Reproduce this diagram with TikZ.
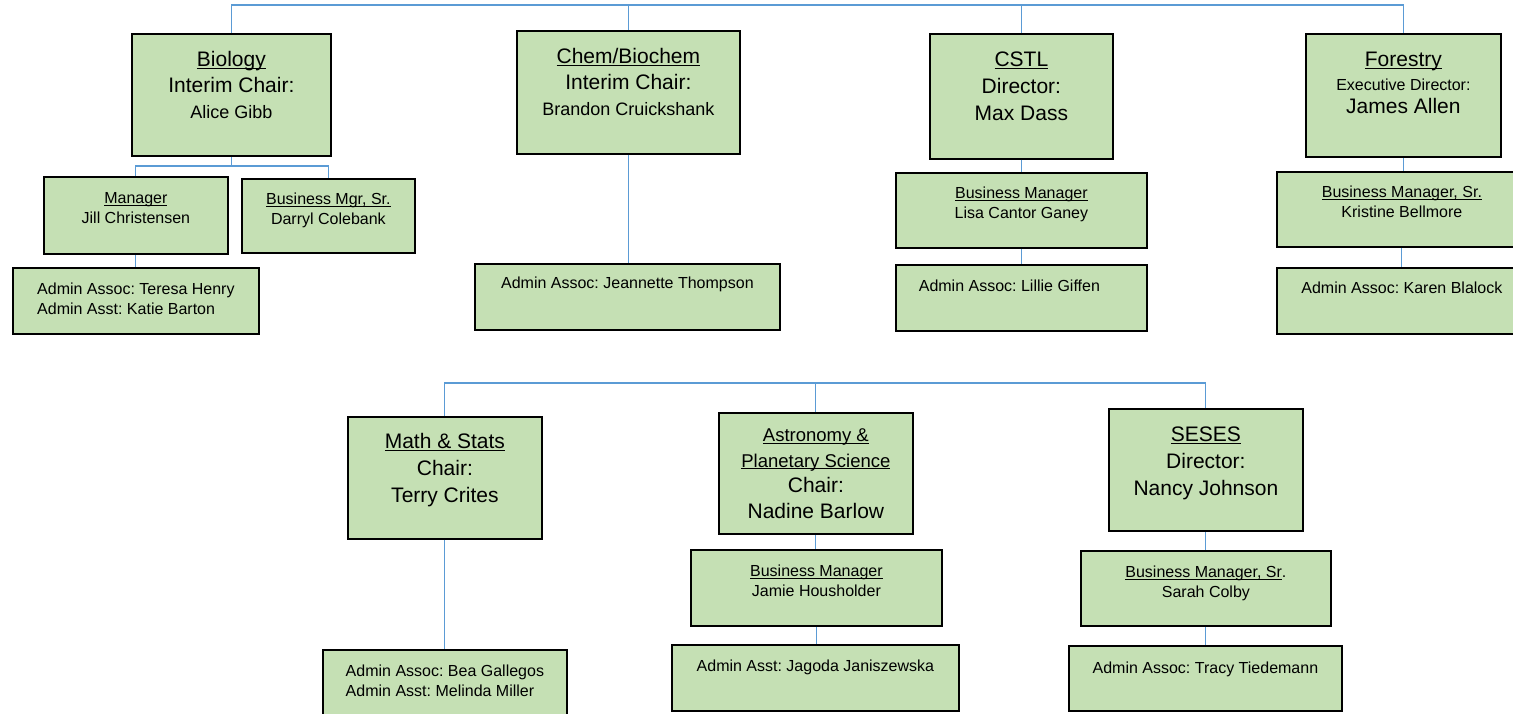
\documentclass[tikz,border=0pt]{standalone}
\usepackage{fontspec}
\setmainfont{Liberation Sans}
\frenchspacing
\definecolor{unitfill}{HTML}{C5E0B4}
\definecolor{linkblue}{HTML}{5B9BD5}
\newsavebox{\ulinebox}
\newcommand{\ulined}[1]{\leavevmode\sbox{\ulinebox}{#1}\rlap{\rule[-0.11em]{\wd\ulinebox}{0.055em}}\usebox{\ulinebox}}
\newcommand{\boxtext}[4]{\parbox[t][#2pt][t]{#1pt}{\centering\rule{0pt}{#3pt}#4\par}}
\begin{document}
\begin{tikzpicture}[x=1pt,y=-1pt,
    unit/.style={draw=black,line width=1.8pt,fill=unitfill,inner sep=0pt,anchor=north west},
    big/.style={font=\fontsize{21}{26}\selectfont},
    small/.style={font=\fontsize{16}{20}\selectfont},
    link/.style={draw=linkblue,line width=1.1pt}]
    \useasboundingbox (0,0) rectangle (1513,713);
    \clip (0,0) rectangle (1513,713);
    % upper row
    \node[unit,big] (bio) at (131,33) {\boxtext{199}{122}{33}{\ulined{Biology}\\Interim Chair:\\{\fontsize{18}{26}\selectfont Alice Gibb}}};
    \node[unit,small] (biomgr) at (43,176) {\boxtext{184}{77}{27}{\ulined{Manager}\\Jill Christensen}};
    \node[unit,small] (biobus) at (241,178) {\boxtext{173}{74}{26}{\ulined{Business Mgr, Sr.}\\Darryl Colebank}};
    \node[unit,small] (bioadm) at (12,267) {\boxtext{246}{66}{27}{\begin{tabular}[t]{@{}l@{}}Admin Assoc: Teresa Henry\\Admin Asst: Katie Barton\end{tabular}}};
    \node[unit,big] (chem) at (516,30) {\boxtext{223}{123}{33}{\ulined{Chem/Biochem}\\Interim Chair:\\{\fontsize{18}{26}\selectfont Brandon Cruickshank}}};
    \node[unit,small] (chemadm) at (474,263) {\boxtext{305}{66}{25}{Admin Assoc: Jeannette Thompson}};
    \node[unit,font=\fontsize{21}{27}\selectfont] (cstl) at (929,33) {\boxtext{183}{125}{33}{\ulined{CSTL}\\Director:\\Max Dass}};
    \node[unit,small] (cstlbus) at (895,172) {\boxtext{251}{75}{26}{\ulined{Business Manager}\\Lisa Cantor Ganey}};
    \node[unit,small] (cstladm) at (895,264) {\boxtext{251}{66}{27}{Admin Assoc: Lillie Giffen\hspace*{24pt}}};
    \node[unit,font=\fontsize{21}{23.5}\selectfont] (forest) at (1305,33) {\boxtext{195}{123}{33}{\ulined{Forestry}\\{\fontsize{16}{23.5}\selectfont Executive Director:}\\James Allen}};
    \node[unit,small] (forestbus) at (1276,171) {\boxtext{250}{75}{26}{\ulined{Business Manager, Sr.}\\Kristine Bellmore}};
    \node[unit,small] (forestadm) at (1276,267) {\boxtext{250}{66}{26}{Admin Assoc: Karen Blalock}};
    % lower row
    \node[unit,font=\fontsize{21}{27}\selectfont] (math) at (347,416) {\boxtext{194}{122}{32}{\ulined{Math \& Stats}\\Chair:\\Terry Crites}};
    \node[unit,small] (mathadm) at (322,649) {\boxtext{244}{71}{27}{\begin{tabular}[t]{@{}l@{}}Admin Assoc: Bea Gallegos\\Admin Asst: Melinda Miller\end{tabular}}};
    \node[unit,font=\fontsize{21}{25.5}\selectfont] (astro) at (718,412) {\boxtext{194}{121}{29}{{\fontsize{18.5}{25.5}\selectfont\ulined{Astronomy \&}\\\ulined{Planetary Science}}\\Chair:\\Nadine Barlow}};
    \node[unit,small] (astrobus) at (690,549) {\boxtext{251}{76}{27}{\ulined{Business Manager}\\Jamie Housholder}};
    \node[unit,small] (astroadm) at (671,644) {\boxtext{287}{66}{27}{Admin Asst: Jagoda Janiszewska}};
    \node[unit,font=\fontsize{21}{27}\selectfont] (seses) at (1108,408) {\boxtext{194}{122}{33}{\ulined{SESES}\\Director:\\Nancy Johnson}};
    \node[unit,small] (sesesbus) at (1080,550) {\boxtext{250}{75}{27}{\ulined{Business Manager, Sr}.\\Sarah Colby}};
    \node[unit,small] (sesesadm) at (1068,645) {\boxtext{273}{65}{28}{Admin Assoc: Tracy Tiedemann}};
    % connectors
    \coordinate (topbus) at (0,5);
    \coordinate (biobusline) at (0,166);
    \coordinate (lowbus) at (0,383);
    \draw[link] (bio.north) |- (topbus -| forest.north) -- (forest.north);
    \draw[link] (chem.north) -- (chem.north |- topbus);
    \draw[link] (cstl.north) -- (cstl.north |- topbus);
    \draw[link] (bio.south) -- (bio.south |- biobusline);
    \draw[link] (biomgr.north) |- (biobusline -| biobus.north) -- (biobus.north);
    \draw[link] (biomgr.south) -- (biomgr.south |- bioadm.north);
    \draw[link] (chem.south) -- (chem.south |- chemadm.north);
    \draw[link] (cstl.south) -- (cstl.south |- cstlbus.north);
    \draw[link] (cstlbus.south) -- (cstlbus.south |- cstladm.north);
    \draw[link] (forest.south) -- (forest.south |- forestbus.north);
    \draw[link] (forestbus.south) -- (forestbus.south |- forestadm.north);
    \draw[link] (math.north) |- (lowbus -| seses.north) -- (seses.north);
    \draw[link] (astro.north) -- (astro.north |- lowbus);
    \draw[link] (math.south) -- (math.south |- mathadm.north);
    \draw[link] (astro.south) -- (astro.south |- astrobus.north);
    \draw[link] (astrobus.south) -- (astrobus.south |- astroadm.north);
    \draw[link] (seses.south) -- (seses.south |- sesesbus.north);
    \draw[link] (sesesbus.south) -- (sesesbus.south |- sesesadm.north);
\end{tikzpicture}
\end{document}
